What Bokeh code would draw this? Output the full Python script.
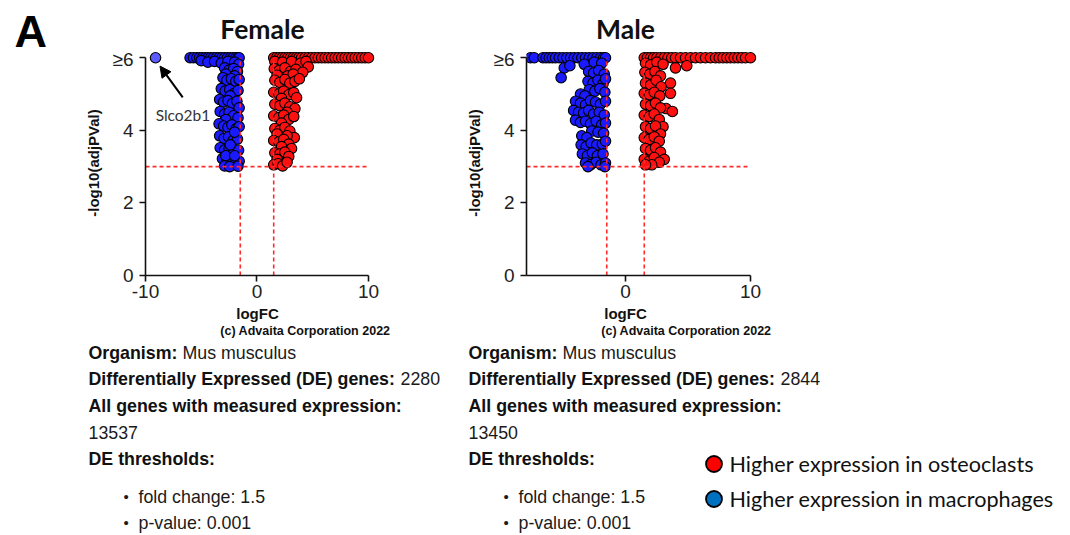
from bokeh.plotting import figure
from bokeh.models import Range1d, FixedTicker, Label, Arrow, NormalHead
from bokeh.layouts import column, row
from bokeh.core.properties import value
from bokeh.embed import file_html
from bokeh.resources import INLINE

# ---------------- data ----------------
fc_threshold = 1.5          # |logFC| threshold lines
p_threshold = 3.0           # -log10(adjPVal) threshold line
y_ticks = [0, 2, 4, 6]
y_tick_labels = ["0", "2", "4", "\u22656"]

female_x_ticks = [-10, 0, 10]
male_x_ticks = [0, 10]

# Female: higher in macrophages (blue)
female_down_top_x = [-6.0, -5.7, -5.4, -5.15, -4.9, -4.65, -4.4, -4.15, -3.9, -3.65,
                     -3.4, -3.15, -2.9, -2.65, -2.4, -2.15, -1.9, -1.7, -1.6]
female_down_points = [
    (-5.0, 5.92), (-4.4, 5.88), (-3.8, 5.9), (-3.2, 5.85), (-2.6, 5.9), (-2.0, 5.88), (-1.65, 5.82),
    (-2.9, 5.72), (-2.5, 5.66), (-2.1, 5.7), (-1.75, 5.62), (-2.8, 5.55), (-2.0, 5.5),
    (-3.05, 5.45), (-2.7, 5.38), (-2.3, 5.42), (-1.9, 5.35), (-1.6, 5.4),
    (-3.2, 5.15), (-2.85, 5.08), (-2.45, 5.12), (-2.05, 5.02), (-1.7, 5.1), (-2.4, 4.95),
    (-3.35, 4.85), (-3.0, 4.78), (-2.6, 4.82), (-2.2, 4.74), (-1.8, 4.8), (-1.6, 4.62),
    (-3.3, 4.52), (-2.9, 4.45), (-2.5, 4.5), (-2.1, 4.4), (-1.7, 4.35), (-2.8, 4.3),
    (-3.4, 4.18), (-3.0, 4.12), (-2.6, 4.08), (-2.25, 4.15), (-1.85, 4.05), (-1.6, 4.1),
    (-3.35, 3.85), (-2.95, 3.78), (-2.55, 3.82), (-2.15, 3.72), (-1.75, 3.76), (-2.0, 3.95),
    (-3.3, 3.52), (-2.9, 3.46), (-2.5, 3.5), (-2.1, 3.4), (-1.65, 3.45), (-2.4, 3.6),
    (-3.1, 3.22), (-2.7, 3.16), (-2.3, 3.2), (-1.9, 3.12), (-1.6, 3.15), (-2.8, 3.3), (-2.0, 3.3),
    (-2.9, 3.02), (-2.45, 3.0), (-1.7, 3.01),
]
# Female: higher in osteoclasts (red)
female_up_top_x = [1.5, 1.75, 2.0, 2.25, 2.5, 2.75, 3.0, 3.25, 3.5, 3.75, 4.0, 4.3, 4.6, 4.9,
                   5.2, 5.5, 5.8, 6.1, 6.4, 6.7, 7.0, 7.3, 7.6, 7.9, 8.2, 8.5, 8.8, 9.1, 9.4, 9.7, 10.0]
female_up_points = [
    (1.6, 5.9), (2.3, 5.88), (3.1, 5.9), (3.9, 5.85), (4.4, 5.9), (4.6, 5.75),
    (1.55, 5.7), (2.0, 5.65), (2.5, 5.72), (3.0, 5.62), (3.5, 5.68), (4.1, 5.6),
    (1.8, 5.52), (2.75, 5.5), (3.25, 5.55),
    (1.6, 5.38), (2.05, 5.32), (2.5, 5.4), (2.95, 5.3), (3.4, 5.35), (3.8, 5.42),
    (1.5, 5.05), (1.95, 5.0), (2.4, 5.08), (2.85, 4.98), (3.3, 5.04), (3.55, 4.9), (2.2, 4.88),
    (1.6, 4.72), (2.05, 4.68), (2.5, 4.75), (2.95, 4.65), (3.4, 4.6), (2.7, 4.5),
    (1.5, 4.4), (1.95, 4.35), (2.4, 4.42), (2.85, 4.3), (3.3, 4.38), (2.2, 4.2),
    (1.6, 4.05), (2.05, 4.0), (2.5, 4.08), (2.95, 3.98), (3.35, 3.8), (1.8, 3.9), (2.7, 3.85),
    (1.5, 3.72), (1.95, 3.68), (2.4, 3.75), (2.85, 3.62), (3.1, 3.5), (2.2, 3.55),
    (1.6, 3.38), (2.05, 3.35), (2.5, 3.4), (2.85, 3.28), (1.8, 3.2),
    (1.5, 3.05), (1.9, 3.08), (2.3, 3.02), (2.7, 3.12),
]
female_labelled_gene = "Slco2b1"
female_labelled_point = (-9.1, 6.0)

# Male: higher in macrophages (blue)
male_down_top_x = [-7.6, -7.3, -6.6, -6.35, -6.1, -5.85, -5.6, -5.3, -5.0, -4.7, -4.4,
                   -4.1, -3.8, -3.5, -3.2, -2.9, -2.6, -2.3, -2.0, -1.75, -1.6]
male_down_points = [
    (-4.9, 5.72), (-4.45, 5.78), (-5.15, 5.45), (-3.3, 5.82), (-2.5, 5.88), (-1.9, 5.85),
    (-2.95, 5.62), (-2.55, 5.58), (-2.15, 5.65), (-1.7, 5.55),
    (-3.0, 5.35), (-2.6, 5.3), (-2.2, 5.38), (-1.8, 5.28), (-1.6, 5.42),
    (-2.9, 5.12), (-2.45, 5.08), (-2.05, 5.15), (-1.65, 5.05),
    (-3.6, 5.0), (-3.25, 4.95), (-4.0, 4.8), (-3.6, 4.75), (-3.2, 4.7), (-2.8, 4.82),
    (-2.4, 4.78), (-2.0, 4.72), (-1.6, 4.8),
    (-4.15, 4.55), (-3.75, 4.5), (-3.35, 4.48), (-2.95, 4.55), (-2.55, 4.45), (-2.1, 4.5), (-1.7, 4.42),
    (-4.0, 4.28), (-3.6, 4.22), (-3.2, 4.25), (-2.8, 4.18), (-2.35, 4.25), (-1.9, 4.15), (-1.6, 4.2),
    (-2.7, 3.98), (-2.2, 3.95), (-1.75, 3.92),
    (-3.5, 3.85), (-3.1, 3.8), (-3.55, 3.6), (-3.15, 3.55), (-2.75, 3.65), (-2.3, 3.6),
    (-1.85, 3.62), (-1.6, 3.7),
    (-3.45, 3.35), (-3.05, 3.3), (-2.65, 3.38), (-2.25, 3.3), (-1.8, 3.35),
    (-3.2, 3.1), (-2.8, 3.05), (-2.35, 3.12), (-1.95, 3.05), (-1.6, 3.1), (-3.0, 3.0), (-1.65, 3.0),
]
# Male: higher in osteoclasts (red)
male_up_top_x = [1.5, 1.75, 2.0, 2.25, 2.5, 2.8, 3.1, 3.4, 3.7, 4.0, 4.4, 4.8, 5.2, 5.6,
                 6.0, 6.4, 6.8, 7.2, 7.5, 7.8, 8.1, 8.4, 8.7, 9.0, 9.3, 9.6, 10.0]
male_up_points = [
    (4.0, 5.72), (4.9, 5.78), (3.6, 5.3), (3.6, 5.02), (3.25, 4.6), (3.75, 4.52),
    (1.6, 5.85), (2.0, 5.8), (2.5, 5.88), (3.0, 5.82),
    (1.55, 5.6), (1.95, 5.55), (2.35, 5.62), (2.8, 5.5),
    (1.6, 5.3), (2.0, 5.25), (2.45, 5.38), (2.85, 5.2),
    (1.5, 5.02), (1.9, 4.98), (2.3, 5.05), (2.75, 4.95),
    (1.6, 4.72), (2.0, 4.68), (2.4, 4.75), (2.8, 4.62),
    (1.5, 4.42), (1.9, 4.38), (2.3, 4.45), (2.7, 4.3), (3.0, 4.1),
    (1.6, 4.1), (2.0, 4.05), (2.4, 4.12), (2.8, 3.9),
    (1.5, 3.8), (1.9, 3.75), (2.3, 3.82), (2.7, 3.7),
    (1.6, 3.5), (2.0, 3.45), (2.4, 3.52), (2.8, 3.4), (3.1, 3.2),
    (1.5, 3.2), (1.9, 3.15), (2.3, 3.25), (2.7, 3.12), (2.1, 3.05), (1.6, 3.05),
]

panel_letter = "A"
panel_titles = ["Female", "Male"]
x_axis_title = "logFC"
y_axis_title = "-log10(adjPVal)"
copyright_text = "(c) Advaita Corporation 2022"
info_labels = ["Organism:", "Differentially Expressed (DE) genes:",
               "All genes with measured expression:", "DE thresholds:"]
female_info = {"organism": "Mus musculus", "de_genes": "2280", "all_genes": "13537"}
male_info = {"organism": "Mus musculus", "de_genes": "2844", "all_genes": "13450"}
threshold_items = ["fold change: 1.5", "p-value: 0.001"]
legend_labels = ["Higher expression in osteoclasts", "Higher expression in macrophages"]

# ---------------- styling ----------------
SANS = "Liberation Sans"
CAL = "Lato"
RED = "#ff1010"
BLUE = "#1a1aff"
LEG_RED = "#ff0000"
LEG_BLUE = "#0070c0"
PT = 10.5


def blank(width, height, x_left, y_top):
    """A figure whose data coordinates are page pixels (for free text)."""
    f = figure(width=width, height=height, x_range=Range1d(x_left, x_left + width),
               y_range=Range1d(y_top + height, y_top), output_backend="svg",
               toolbar_location=None, min_border_left=0, min_border_right=0,
               min_border_top=0, min_border_bottom=0, x_axis_type=None, y_axis_type=None)
    f.grid.visible = False
    f.outline_line_color = None
    f.background_fill_color = "white"
    f.border_fill_color = "white"
    return f


def volcano(width, x0, x1, xbound, xticks, down_top, down_pts, up_top, up_pts,
            left_border, right_border):
    p = figure(width=width, height=258, x_range=Range1d(x0, x1), y_range=Range1d(0, 6.2),
               output_backend="svg", toolbar_location=None,
               min_border_left=left_border, min_border_right=right_border,
               min_border_top=2, min_border_bottom=31)
    p.grid.visible = False
    p.outline_line_color = None
    p.background_fill_color = "white"
    p.border_fill_color = "white"

    p.scatter(down_top, [6.0] * len(down_top), size=PT, fill_color=BLUE,
              line_color="black", line_width=1.1)
    p.scatter([a for a, b in down_pts], [b for a, b in down_pts], size=PT,
              fill_color=BLUE, line_color="black", line_width=1.1)
    p.scatter(up_top, [6.0] * len(up_top), size=PT, fill_color=RED,
              line_color="black", line_width=1.1)
    p.scatter([a for a, b in up_pts], [b for a, b in up_pts], size=PT,
              fill_color=RED, line_color="black", line_width=1.1)

    dash = dict(line_color="#ff2a2a", line_width=1.6, line_dash="4 3")
    p.line([xbound[0], xbound[1]], [p_threshold, p_threshold], **dash)
    p.line([-fc_threshold, -fc_threshold], [0, 6], **dash)
    p.line([fc_threshold, fc_threshold], [0, 6], **dash)

    for ax in (p.xaxis[0], p.yaxis[0]):
        ax.axis_line_color = "#111111"
        ax.axis_line_width = 1.6
        ax.major_tick_line_color = "#111111"
        ax.major_tick_line_width = 1.6
        ax.major_tick_out = 6
        ax.major_tick_in = 0
        ax.minor_tick_line_color = None
        ax.major_label_text_font = SANS
        ax.major_label_text_font_size = "19px"
        ax.major_label_text_color = "#222222"
        ax.axis_label_text_font = SANS
        ax.axis_label_text_font_style = "bold"
        ax.axis_label_text_font_size = "15px"
        ax.axis_label_text_color = "#111111"
    p.xaxis.bounds = xbound
    p.yaxis.bounds = (0, 6)
    p.xaxis.ticker = FixedTicker(ticks=xticks, minor_ticks=[])
    p.yaxis.ticker = FixedTicker(ticks=y_ticks, minor_ticks=[])
    p.xaxis.major_label_overrides = {t: str(t) for t in xticks}
    p.yaxis.major_label_overrides = {t: l for t, l in zip(y_ticks, y_tick_labels)}
    p.yaxis.axis_label = y_axis_title
    p.xaxis.major_label_standoff = 3
    p.yaxis.major_label_standoff = 6
    p.yaxis.axis_label_standoff = 8
    return p


fem = volcano(360, -10, 10.63, (-10, 10), female_x_ticks,
              female_down_top_x, female_down_points, female_up_top_x, female_up_points,
              65, 65)
fem.scatter([female_labelled_point[0]], [female_labelled_point[1]], size=PT,
            fill_color="#5a5aff", line_color="black", line_width=1.1)
fem.add_layout(Arrow(end=NormalHead(size=11, fill_color="black", line_color="black"),
                     x_start=-6.66, y_start=4.91, x_end=-8.7, y_end=5.77,
                     line_color="black", line_width=2))
fem.add_layout(Label(x=-6.64, y=4.41, text=female_labelled_gene, text_font=CAL,
                     text_font_size="15.5px", text_align="center", text_baseline="middle",
                     text_color="#333333"))

mal = volcano(630, -7.92, 10.48, (-7.92, 10), male_x_ticks,
              male_down_top_x, male_down_points, male_up_top_x, male_up_points,
              86, 314)

# ---------------- panel letter column (page x 0..80, y 0..306) ----------------
letter = blank(80, 306, 0, 0)
letter.text([14], [31], text=[panel_letter], text_font=value(SANS), text_font_style="bold",
            text_font_size="45px", text_baseline="middle", text_color="black")

# ---------------- title strip (page x 80..1070, y 0..48) ----------------
head = blank(990, 48, 80, 0)
head.text([262, 625], [28, 28], text=panel_titles, text_font=value(CAL),
          text_font_style="bold", text_font_size="26.5px", text_align="center",
          text_baseline="middle", text_color="#111111")

# ---------------- info panel (page y 306..535) ----------------
info = blank(1070, 229, 0, 306)
info.text([257, 625], [313, 313], text=[x_axis_title] * 2, text_font=value(SANS),
          text_font_style="bold", text_font_size="15px", text_align="center",
          text_baseline="middle", text_color="#111111")
info.text([390, 771], [330, 330], text=[copyright_text] * 2, text_font=value(SANS),
          text_font_style="bold", text_font_size="12.5px", text_align="right",
          text_baseline="middle", text_color="#111111")

FS = "17.8px"
rows_y = [352, 378, 405, 432, 458]
bullet_y = [496, 522]
for x0, d in ((88, female_info), (468, male_info)):
    info.text([x0] * 4, [rows_y[0], rows_y[1], rows_y[2], rows_y[4]], text=info_labels,
              text_font=value(SANS), text_font_style="bold", text_font_size=FS,
              text_baseline="middle", text_color="#111111")
    info.text([x0 + 94, x0 + 312, x0], [rows_y[0], rows_y[1], rows_y[3]],
              text=[d["organism"], d["de_genes"], d["all_genes"]],
              text_font=value(SANS), text_font_size=FS,
              text_baseline="middle", text_color="#1a1a1a")
    info.text([x0 + 35, x0 + 35], bullet_y, text=["\u2022", "\u2022"],
              text_font=value(SANS), text_font_size="15px",
              text_baseline="middle", text_color="#1a1a1a")
    info.text([x0 + 50, x0 + 50], bullet_y, text=threshold_items,
              text_font=value(SANS), text_font_size=FS,
              text_baseline="middle", text_color="#1a1a1a")

info.scatter([713.5, 713.5], [463.5, 498.5], size=16, fill_color=[LEG_RED, LEG_BLUE],
             line_color="black", line_width=1.8)
info.text([729, 729], [463, 498], text=legend_labels, text_font=value(CAL),
          text_font_size="21.6px", text_baseline="middle", text_color="#111111")

layout = column(row(letter, column(head, row(fem, mal))), info)
open("out.html", "w").write(file_html(layout, INLINE))
